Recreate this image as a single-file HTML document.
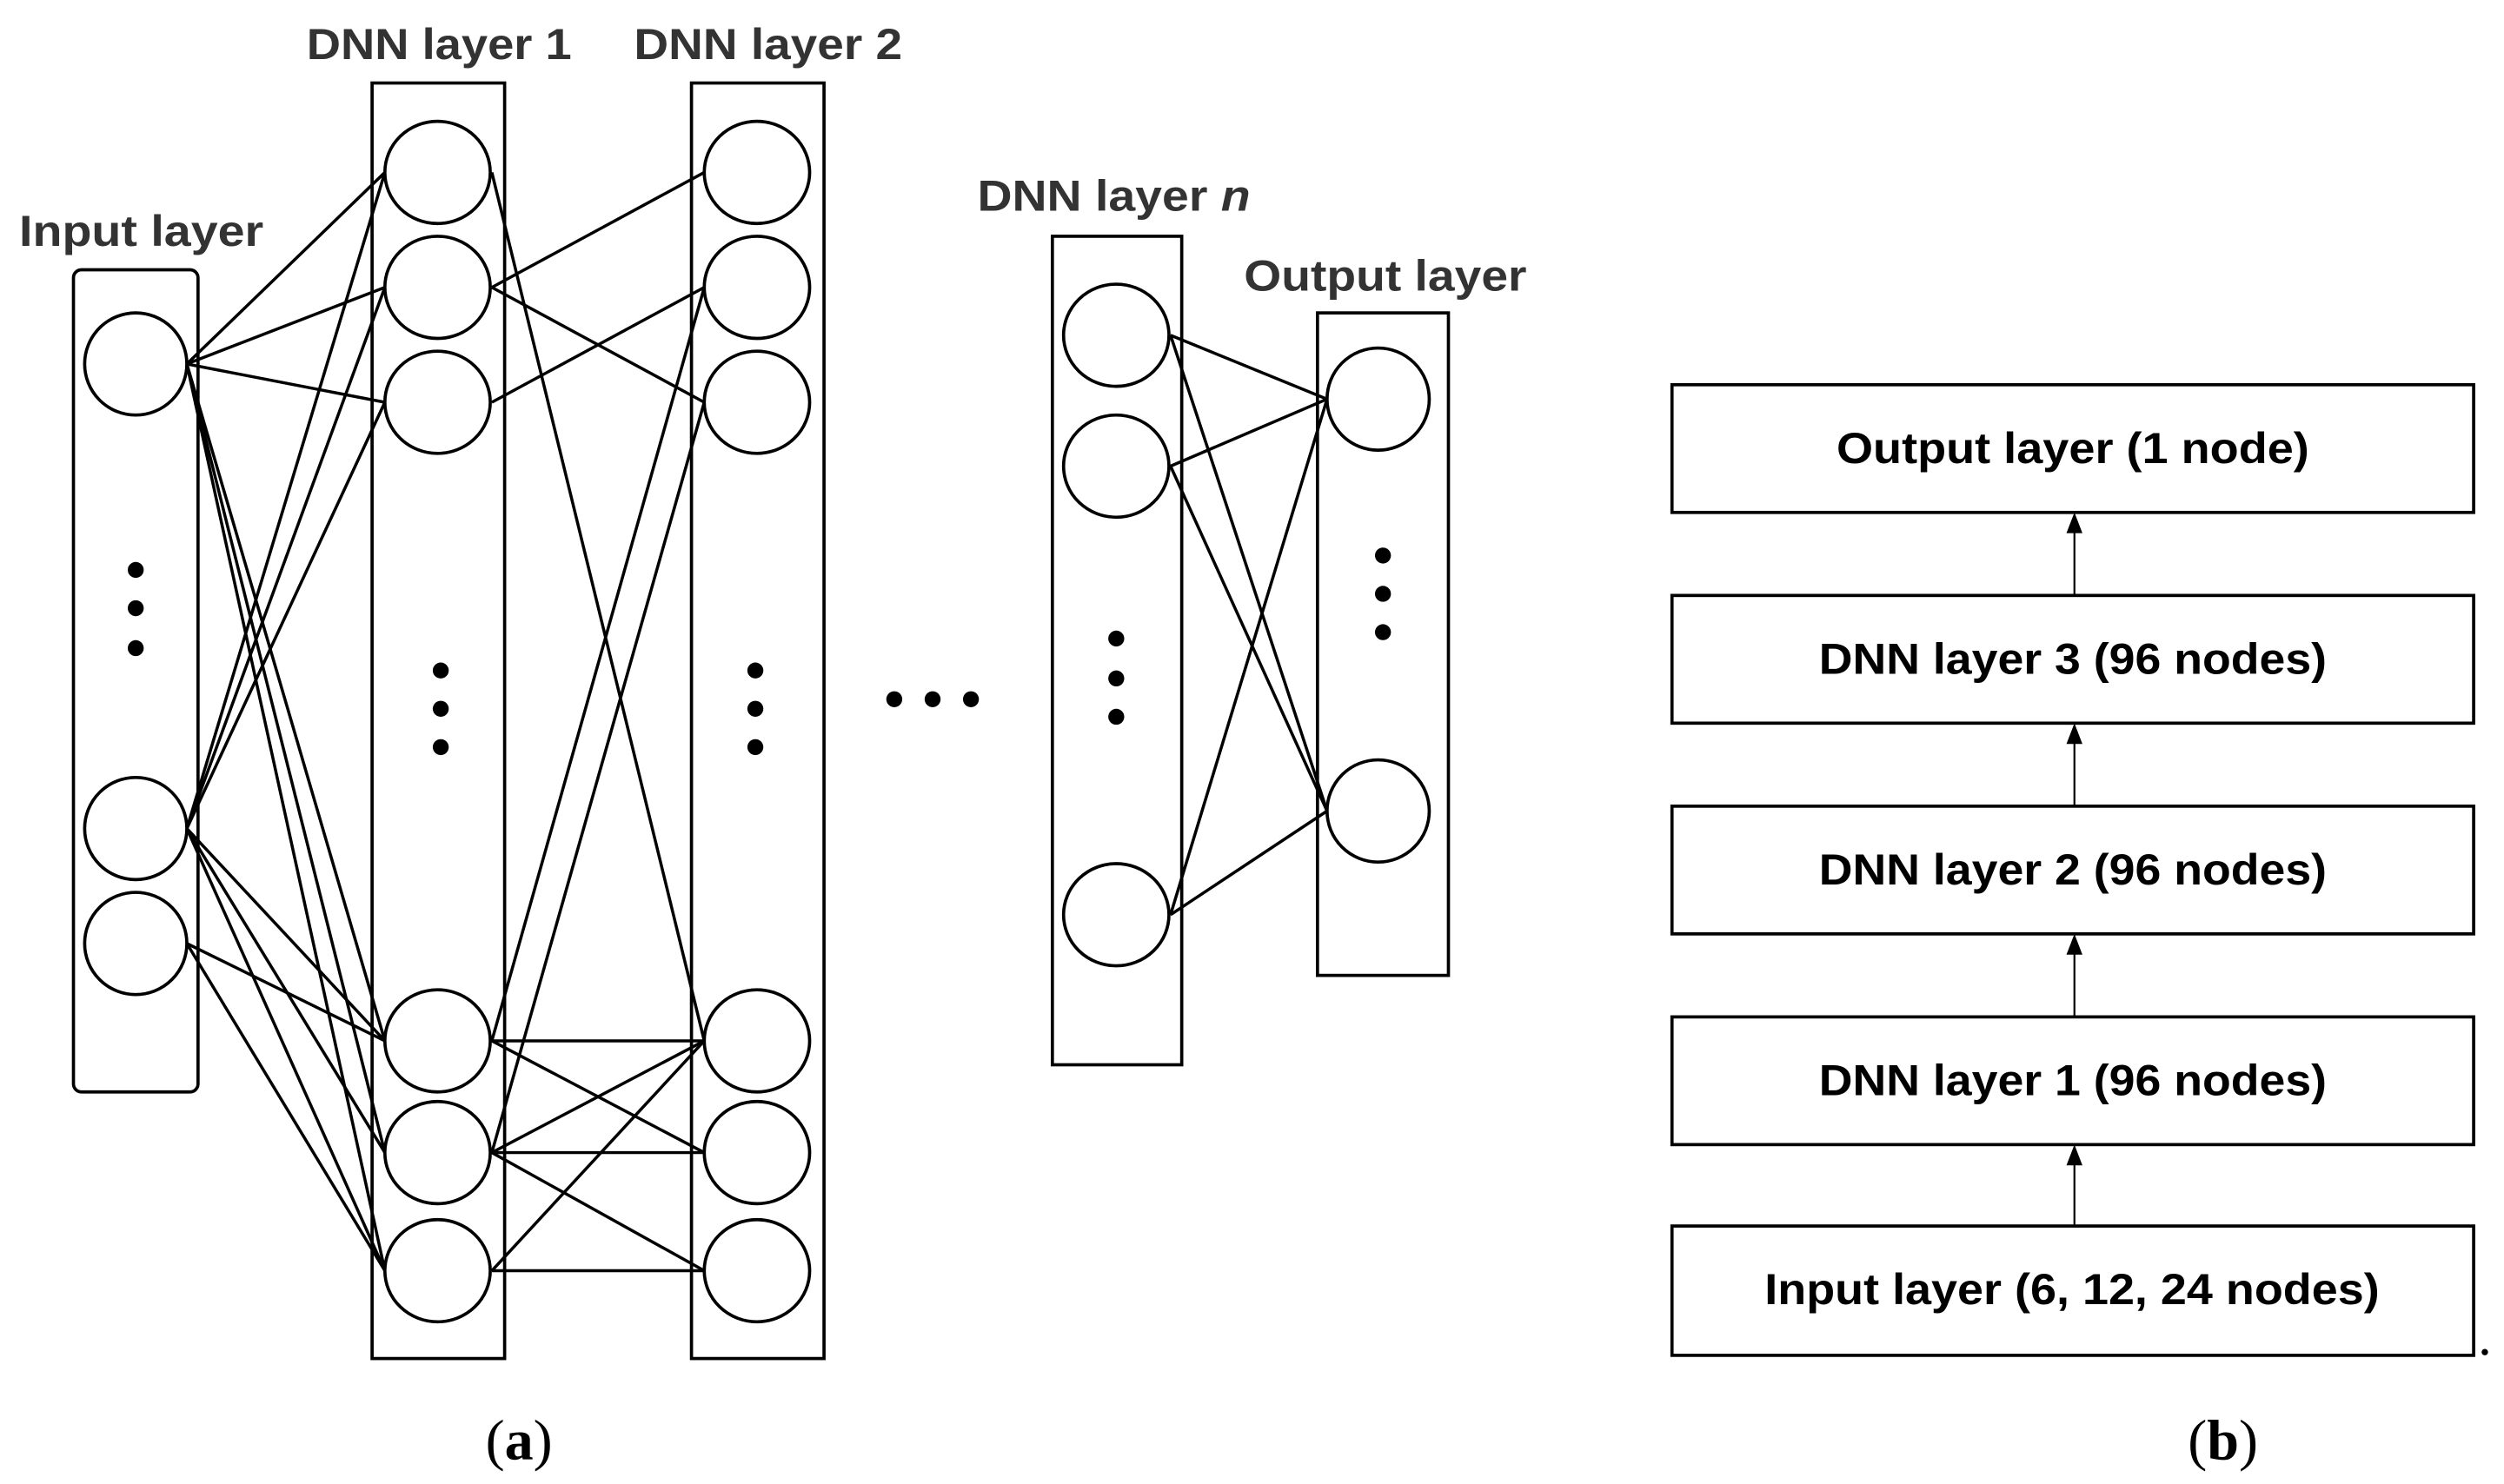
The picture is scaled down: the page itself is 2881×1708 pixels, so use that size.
<!DOCTYPE html>
<html><head><meta charset="utf-8"><style>
html,body{margin:0;padding:0;background:#fff;}
svg{display:block;}
.t{font-family:"Liberation Sans",Arial,sans-serif;font-weight:bold;}
</style></head><body>
<svg width="2881" height="1708" viewBox="0 0 1568 929.6" preserveAspectRatio="none" xmlns="http://www.w3.org/2000/svg">
<rect width="1568" height="930" fill="#fff"/>
<g fill="none" stroke="#000" stroke-width="2">
<rect x="46" y="169" width="78" height="515" rx="5"/>
<rect x="233" y="52" width="83" height="799"/>
<rect x="433" y="52" width="83" height="799"/>
<rect x="659" y="148" width="81" height="519"/>
<rect x="825" y="196" width="82" height="415"/>
</g>
<g stroke="#000" stroke-width="1.9">
<line x1="117" y1="228" x2="241" y2="108"/><line x1="117" y1="228" x2="241" y2="180"/><line x1="117" y1="228" x2="241" y2="252"/>
<line x1="117" y1="228" x2="241" y2="652"/><line x1="117" y1="228" x2="241" y2="722"/><line x1="117" y1="228" x2="241" y2="796"/>
<line x1="117" y1="519" x2="241" y2="108"/><line x1="117" y1="519" x2="241" y2="180"/><line x1="117" y1="519" x2="241" y2="252"/>
<line x1="117" y1="519" x2="241" y2="652"/><line x1="117" y1="519" x2="241" y2="722"/><line x1="117" y1="519" x2="241" y2="796"/>
<line x1="117" y1="591" x2="241" y2="652"/><line x1="117" y1="591" x2="241" y2="796"/>
<line x1="308" y1="108" x2="441" y2="652"/>
<line x1="308" y1="180" x2="441" y2="108"/><line x1="308" y1="180" x2="441" y2="252"/>
<line x1="308" y1="252" x2="441" y2="180"/>
<line x1="308" y1="652" x2="441" y2="180"/><line x1="308" y1="652" x2="441" y2="652"/><line x1="308" y1="652" x2="441" y2="722"/>
<line x1="308" y1="722" x2="441" y2="252"/><line x1="308" y1="722" x2="441" y2="652"/><line x1="308" y1="722" x2="441" y2="722"/><line x1="308" y1="722" x2="441" y2="796"/>
<line x1="308" y1="796" x2="441" y2="652"/><line x1="308" y1="796" x2="441" y2="796"/>
<line x1="733" y1="210" x2="831" y2="250"/><line x1="733" y1="210" x2="831" y2="508"/>
<line x1="733" y1="292" x2="831" y2="250"/><line x1="733" y1="292" x2="831" y2="508"/>
<line x1="733" y1="573" x2="831" y2="250"/><line x1="733" y1="573" x2="831" y2="508"/>
</g>
<g fill="#fff" stroke="#000" stroke-width="2">
<ellipse cx="85" cy="228" rx="32" ry="32"/><ellipse cx="85" cy="519" rx="32" ry="32"/><ellipse cx="85" cy="591" rx="32" ry="32"/>
<ellipse cx="274" cy="108" rx="33" ry="32"/><ellipse cx="274" cy="180" rx="33" ry="32"/><ellipse cx="274" cy="252" rx="33" ry="32"/>
<ellipse cx="274" cy="652" rx="33" ry="32"/><ellipse cx="274" cy="722" rx="33" ry="32"/><ellipse cx="274" cy="796" rx="33" ry="32"/>
<ellipse cx="474" cy="108" rx="33" ry="32"/><ellipse cx="474" cy="180" rx="33" ry="32"/><ellipse cx="474" cy="252" rx="33" ry="32"/>
<ellipse cx="474" cy="652" rx="33" ry="32"/><ellipse cx="474" cy="722" rx="33" ry="32"/><ellipse cx="474" cy="796" rx="33" ry="32"/>
<ellipse cx="699" cy="210" rx="33" ry="32"/><ellipse cx="699" cy="292" rx="33" ry="32"/><ellipse cx="699" cy="573" rx="33" ry="32"/>
<ellipse cx="863" cy="250" rx="32" ry="32"/><ellipse cx="863" cy="508" rx="32" ry="32"/>
</g>
<g fill="#000">
<circle cx="85" cy="357" r="5"/><circle cx="85" cy="381" r="5"/><circle cx="85" cy="406" r="5"/>
<circle cx="276" cy="420" r="5"/><circle cx="276" cy="444" r="5"/><circle cx="276" cy="468" r="5"/>
<circle cx="473" cy="420" r="5"/><circle cx="473" cy="444" r="5"/><circle cx="473" cy="468" r="5"/>
<circle cx="699" cy="400" r="5"/><circle cx="699" cy="425" r="5"/><circle cx="699" cy="449" r="5"/>
<circle cx="866" cy="348" r="5"/><circle cx="866" cy="372" r="5"/><circle cx="866" cy="396" r="5"/>
<circle cx="560" cy="438" r="5"/><circle cx="584" cy="438" r="5"/><circle cx="608" cy="438" r="5"/>
</g>
<g class="t" fill="#333" font-size="27">
<text x="12" y="154" textLength="153" lengthAdjust="spacingAndGlyphs">Input layer</text>
<text x="192" y="37" textLength="166" lengthAdjust="spacingAndGlyphs">DNN layer 1</text>
<text x="397" y="37" textLength="168" lengthAdjust="spacingAndGlyphs">DNN layer 2</text>
<text x="612" y="132" textLength="171" lengthAdjust="spacingAndGlyphs">DNN layer <tspan font-style="italic">n</tspan></text>
<text x="779" y="182" textLength="177" lengthAdjust="spacingAndGlyphs">Output layer</text>
</g>
<g fill="none" stroke="#000" stroke-width="2">
<rect x="1047" y="241" width="502" height="80"/>
<rect x="1047" y="373" width="502" height="80"/>
<rect x="1047" y="505" width="502" height="80"/>
<rect x="1047" y="637" width="502" height="80"/>
<rect x="1047" y="768" width="502" height="81"/>
</g>
<g stroke="#000" stroke-width="1.2">
<line x1="1299" y1="373" x2="1299" y2="330"/><line x1="1299" y1="505" x2="1299" y2="462"/>
<line x1="1299" y1="637" x2="1299" y2="594"/><line x1="1299" y1="768" x2="1299" y2="726"/>
</g>
<g fill="#000">
<polygon points="1299,321 1294,334 1304,334"/><polygon points="1299,453 1294,466 1304,466"/>
<polygon points="1299,585 1294,598 1304,598"/><polygon points="1299,717 1294,730 1304,730"/>
<circle cx="1556" cy="847" r="2"/>
</g>
<g class="t" fill="#000" font-size="27">
<text x="1150" y="290" textLength="296" lengthAdjust="spacingAndGlyphs">Output layer (1 node)</text>
<text x="1139" y="422" textLength="318" lengthAdjust="spacingAndGlyphs">DNN layer 3 (96 nodes)</text>
<text x="1139" y="554" textLength="318" lengthAdjust="spacingAndGlyphs">DNN layer 2 (96 nodes)</text>
<text x="1139" y="686" textLength="318" lengthAdjust="spacingAndGlyphs">DNN layer 1 (96 nodes)</text>
<text x="1105" y="817" textLength="385" lengthAdjust="spacingAndGlyphs">Input layer (6, 12, 24 nodes)</text>
</g>
<g font-family="'Liberation Serif',serif" font-size="36" text-anchor="middle">
<text x="325" y="914">(<tspan font-weight="bold">a</tspan>)</text>
<text x="1392" y="914">(<tspan font-weight="bold">b</tspan>)</text>
</g>
</svg>
</body></html>
